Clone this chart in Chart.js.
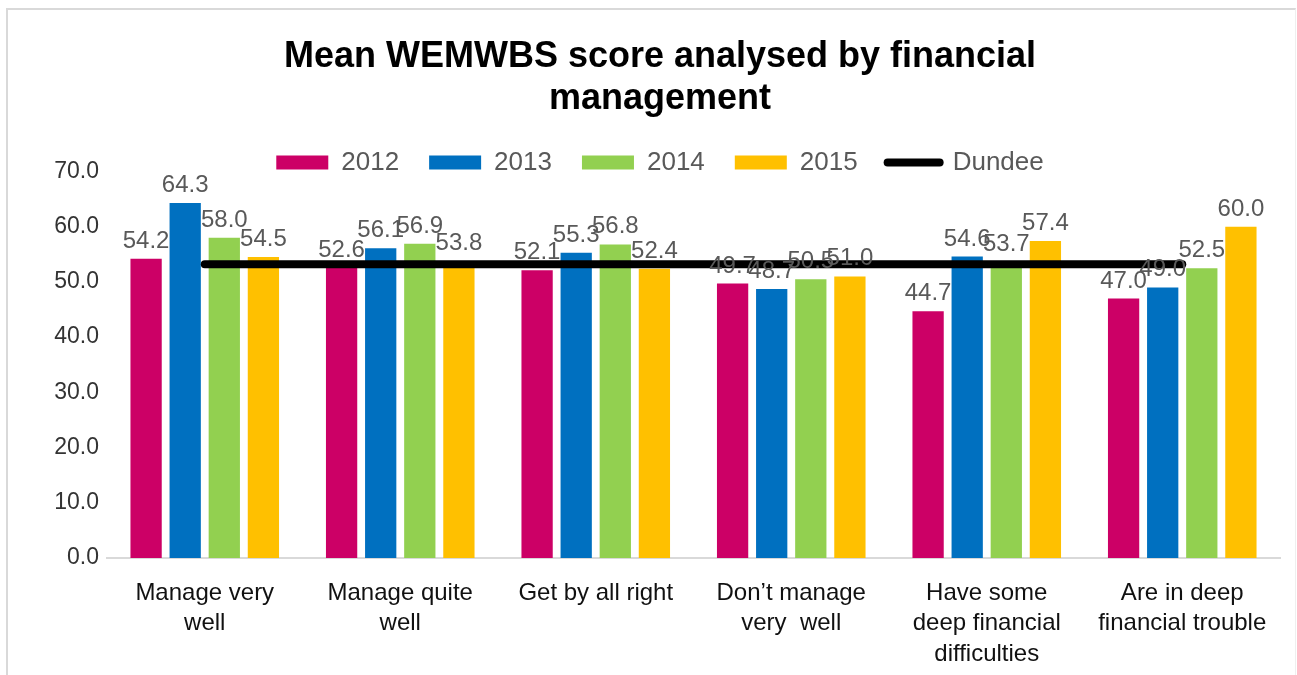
<!DOCTYPE html>
<html>
<head>
<meta charset="utf-8">
<script src="https://cdn.jsdelivr.net/npm/chart.js@4.4.1/dist/chart.umd.min.js"></script>
<style>
  body { margin: 0; background: #fff; }
  #wrap { position: absolute; left: 0; top: 0; width: 1297px; height: 675px; }
  #frame { position: absolute; left: 6px; top: 8px; width: 1287px; height: 680px;
           border-left: 2px solid #d9d9d9; border-top: 2px solid #d9d9d9;
           border-right: 1px solid #efefef; pointer-events: none; }
</style>
</head>
<body>
<div id="wrap"><canvas id="scores" width="1297" height="675"></canvas></div>
<div id="frame"></div>
<script>
const categories = [
  ['Manage very', 'well'],
  ['Manage quite', 'well'],
  ['Get by all right'],
  ['Don\u2019t manage', 'very  well'],
  ['Have some', 'deep financial', 'difficulties'],
  ['Are in deep', 'financial trouble']
];
const years = ['2012', '2013', '2014', '2015'];
const values2012 = [54.2, 52.6, 52.1, 49.7, 44.7, 47.0];
const values2013 = [64.3, 56.1, 55.3, 48.7, 54.6, 49.0];
const values2014 = [58.0, 56.9, 56.8, 50.5, 53.7, 52.5];
const values2015 = [54.5, 53.8, 52.4, 51.0, 57.4, 60.0];
const dundee = [53.2, 53.2, 53.2, 53.2, 53.2, 53.2];
const yTicks = [0, 10, 20, 30, 40, 50, 60, 70];

const colours = ['#cc0066', '#0070c0', '#92d050', '#ffc000'];
const fontFamily = '"Liberation Sans", Arial, sans-serif';

const barSets = [values2012, values2013, values2014, values2015].map((vals, i) => ({
  type: 'bar',
  label: years[i],
  data: vals,
  backgroundColor: colours[i],
  categoryPercentage: 0.8,
  barPercentage: 0.8,
  order: 1
}));

// numbers above the bars
const valueLabels = {
  id: 'valueLabels',
  afterDatasetsDraw(chart) {
    const ctx = chart.ctx;
    ctx.save();
    ctx.font = '24px ' + fontFamily;
    ctx.fillStyle = '#595959';
    ctx.textAlign = 'center';
    ctx.textBaseline = 'alphabetic';
    chart.data.datasets.forEach((ds, di) => {
      if (ds.type !== 'bar') return;
      chart.getDatasetMeta(di).data.forEach((bar, i) => {
        ctx.fillText(ds.data[i].toFixed(1), bar.x, bar.y - 11);
      });
    });
    ctx.restore();
  }
};

const chart = new Chart(document.getElementById('scores'), {
  data: {
    labels: categories,
    datasets: [
      ...barSets,
      {
        type: 'line',
        label: 'Dundee',
        data: dundee,
        borderColor: '#000',
        backgroundColor: '#000',
        borderWidth: 8,
        borderCapStyle: 'round',
        pointRadius: 0,
        order: 0
      }
    ]
  },
  options: {
    responsive: false,
    animation: false,
    layout: { padding: { left: 40, right: 17, top: 24, bottom: 0 } },
    plugins: {
      tooltip: { enabled: false },
      title: {
        display: true,
        text: ['Mean WEMWBS score analysed by financial', 'management'],
        color: '#000',
        font: { family: fontFamily, size: 36, weight: 'bold', lineHeight: 1.16 },
        padding: { top: 12, bottom: 0 }
      },
      legend: {
        position: 'top',
        labels: {
          color: '#595959',
          font: { family: fontFamily, size: 26 },
          usePointStyle: true,
          pointStyleWidth: 52,
          boxHeight: 14,
          padding: 30,
          sort: (a, b) => a.datasetIndex - b.datasetIndex,
          generateLabels(chart) {
            const items = Chart.defaults.plugins.legend.labels.generateLabels(chart);
            return items.map(it => {
              if (it.text === 'Dundee') {
                return { ...it, pointStyle: 'line', lineWidth: 8, strokeStyle: '#000', lineCap: 'round' };
              }
              return { ...it, pointStyle: 'rect', lineWidth: 0 };
            });
          }
        }
      }
    },
    scales: {
      x: {
        grid: { display: false },
        border: { color: '#d9d9d9', width: 2 },
        afterFit(scale) { scale.height = 117; },
        ticks: {
          color: '#111',
          font: { family: fontFamily, size: 24, lineHeight: 1.27 },
          padding: 12,
          maxRotation: 0,
          autoSkip: false
        }
      },
      y: {
        min: 0,
        max: 70,
        grid: { display: false },
        border: { display: false },
        afterFit(scale) { scale.width = 67; },
        afterBuildTicks(scale) { scale.ticks = yTicks.map(v => ({ value: v })); },
        ticks: {
          color: '#333',
          font: { family: fontFamily, size: 23 },
          padding: 0,
          callback: v => v.toFixed(1)
        }
      }
    }
  },
  plugins: [valueLabels]
});

// the legend box is taller than the one in the picture; trim it
const legendFit = chart.legend.fit;
chart.legend.fit = function () {
  legendFit.call(this);
  this.height -= 14;
};
chart.update();
</script>
</body>
</html>
